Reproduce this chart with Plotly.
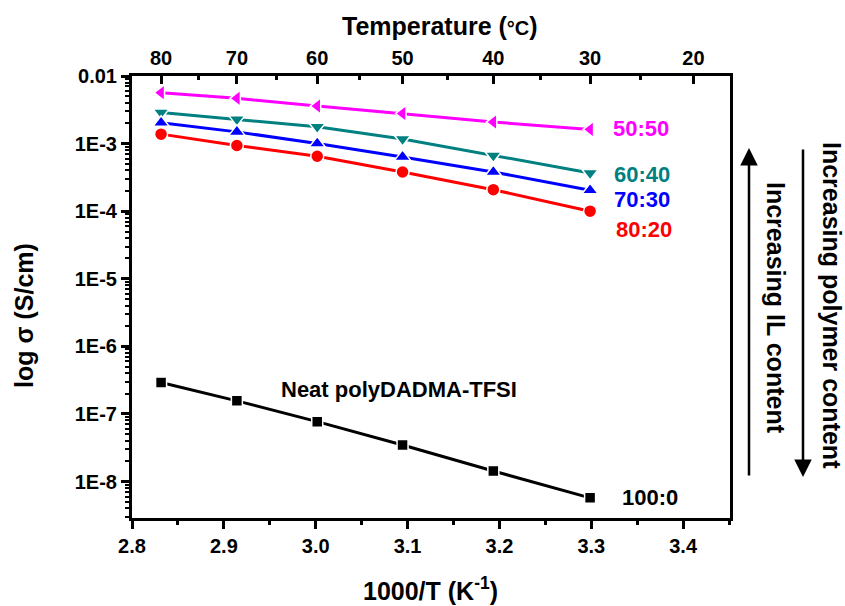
import plotly.graph_objects as go

# Data
temps_C = [80, 70, 60, 50, 40, 30]
inv_T = [1000.0 / (t + 273.15) for t in temps_C]

s_50_50 = [5.66e-3, 4.67e-3, 3.59e-3, 2.79e-3, 2.08e-3, 1.62e-3]
s_60_40 = [2.89e-3, 2.30e-3, 1.77e-3, 1.17e-3, 6.65e-4, 3.68e-4]
s_70_30 = [2.03e-3, 1.49e-3, 1.00e-3, 6.35e-4, 3.80e-4, 2.04e-4]
s_80_20 = [1.38e-3, 9.37e-4, 6.50e-4, 3.80e-4, 2.08e-4, 1.00e-4]
s_100_0 = [2.91e-7, 1.56e-7, 7.69e-8, 3.47e-8, 1.43e-8, 5.73e-9]

x_ticks = [2.8, 2.9, 3.0, 3.1, 3.2, 3.3, 3.4]
x_minor = [2.85, 2.95, 3.05, 3.15, 3.25, 3.35, 3.45]
y_ticks = [1e-2, 1e-3, 1e-4, 1e-5, 1e-6, 1e-7, 1e-8]
y_ticktext = ["0.01", "1E-3", "1E-4", "1E-5", "1E-6", "1E-7", "1E-8"]
top_T = [80, 70, 60, 50, 40, 30, 20]
top_T_minor = [75, 65, 55, 45, 35, 25]

FONT = "Liberation Sans, Arial, sans-serif"
x_range = [2.8, 3.451]
y_range = [-8.54, -2.0]

fig = go.Figure()

series = [
    ("50:50", s_50_50, "#FF00FF", "triangle-left", 14),
    ("60:40", s_60_40, "#008080", "triangle-down", 14),
    ("70:30", s_70_30, "#0000FF", "triangle-up", 14),
    ("80:20", s_80_20, "#FF0000", "circle", 13),
    ("100:0", s_100_0, "#000000", "square", 11),
]
for name, ys, col, sym, sz in series:
    fig.add_trace(go.Scatter(
        x=inv_T, y=ys, mode="lines+markers", name=name,
        line=dict(color=col, width=3),
        marker=dict(symbol=sym, size=sz, color=col,
                    line=dict(color="white", width=1.5)),
        showlegend=False,
    ))

# invisible trace to anchor the top temperature axis
fig.add_trace(go.Scatter(x=[x_range[0]], y=[1e-5], xaxis="x2", yaxis="y",
                         mode="markers", marker=dict(opacity=0), showlegend=False,
                         hoverinfo="skip"))

tickfont = dict(family=FONT, size=20, color="black", weight="bold")

y_minor = []
for e in range(-9, -2):
    for m in range(2, 10):
        v = m * 10.0 ** e
        if 10 ** y_range[0] <= v <= 10 ** y_range[1]:
            y_minor.append(v)


def b(s):
    return "<b>%s</b>" % s


fig.update_layout(
    width=845, height=606,
    margin=dict(l=132, r=115, t=76, b=88),
    paper_bgcolor="white", plot_bgcolor="white",
    xaxis=dict(range=x_range, tickvals=x_ticks,
               ticktext=[b("%.1f" % v) for v in x_ticks],
               ticks="outside", ticklen=8, tickwidth=3, tickcolor="black",
               showline=True, linewidth=3, linecolor="black", mirror=True,
               showgrid=False, zeroline=False, tickfont=tickfont,
               minor=dict(tickvals=x_minor, ticks="outside", ticklen=4,
                          tickwidth=3, tickcolor="black", showgrid=False)),
    xaxis2=dict(range=x_range, overlaying="x", side="top", anchor="y",
                tickvals=[1000.0 / (t + 273.15) for t in top_T],
                ticktext=[b(t) for t in top_T],
                ticks="inside", ticklen=8, tickwidth=3, tickcolor="black",
                showline=True, linewidth=3, linecolor="black",
                showgrid=False, zeroline=False, tickfont=tickfont,
                minor=dict(tickvals=[1000.0 / (t + 273.15) for t in top_T_minor],
                           ticks="inside", ticklen=4, tickwidth=3,
                           tickcolor="black", showgrid=False)),
    yaxis=dict(type="log", range=y_range, tickvals=y_ticks,
               ticktext=[b(t) for t in y_ticktext],
               ticks="outside", ticklen=8, tickwidth=3, tickcolor="black",
               showline=True, linewidth=3, linecolor="black", mirror=True,
               showgrid=False, zeroline=False, tickfont=tickfont,
               minor=dict(tickvals=y_minor, ticks="outside", ticklen=4,
                          tickwidth=2, tickcolor="black", showgrid=False)),
)


def ann(text, x, y, color="black", size=20, angle=0, xanchor="center"):
    fig.add_annotation(text=b(text), x=x, y=y, xref="paper", yref="paper",
                       showarrow=False, textangle=angle, xanchor=xanchor,
                       yanchor="middle",
                       font=dict(family=FONT, size=size, color=color,
                                 weight="bold"))


PX = lambda px: (px - 132) / 598
PY = lambda py: (518 - py) / 442

# axis titles
ann("Temperature (<span style='font-size:20px'>°C</span>)", PX(440), PY(26), size=25)
ann("1000/T (K<sup>-1</sup>)", PX(430), PY(589), size=25)
ann("log σ (S/cm)", PX(24), PY(316), size=25, angle=-90)

# series labels
ann("50:50", PX(611), PY(128), color="#FF00FF", size=22, xanchor="left")
ann("60:40", PX(612), PY(174), color="#008080", size=22, xanchor="left")
ann("70:30", PX(612), PY(199), color="#0000FF", size=22, xanchor="left")
ann("80:20", PX(614), PY(229), color="#FF0000", size=22, xanchor="left")
ann("100:0", PX(620), PY(497), color="black", size=22, xanchor="left")
ann("Neat polyDADMA-TFSI", PX(279), PY(390), size=22, xanchor="left")

# arrows
fig.add_annotation(x=PX(749), y=PY(148), xref="paper", yref="paper",
                   ax=0, ay=329, showarrow=True, arrowhead=2,
                   arrowsize=1.4, arrowwidth=2.5, arrowcolor="black", text="")
fig.add_annotation(x=PX(803), y=PY(477), xref="paper", yref="paper",
                   ax=0, ay=-329, showarrow=True, arrowhead=2,
                   arrowsize=1.4, arrowwidth=2.5, arrowcolor="black", text="")
ann("Increasing IL content", PX(776), PY(308), size=25, angle=90)
ann("Increasing polymer content", PX(832), PY(305), size=25, angle=90)

fig.write_html("out.html")
